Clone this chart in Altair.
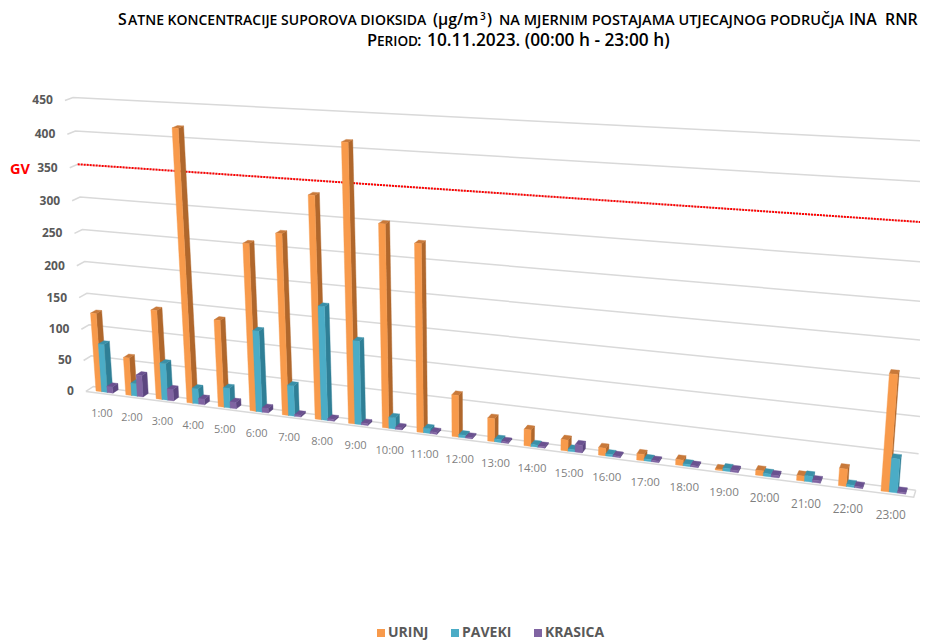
import altair as alt
import pandas as pd

hours = [f"{h}:00" for h in range(1, 24)]
urinj = [125, 60, 140, 417, 135, 255, 274, 333, 411, 300, 276, 62, 34, 24, 16, 11, 9, 8, 1.5, 7, 7, 24, 158]
paveki = [77, 20, 58, 24, 31, 125, 47, 172, 126, 17, 7, 4, 4, 3, 3, 3, 3, 3, 4, 4, 8, 3, 46]
krasica = [10, 34, 18, 9, 10, 7, 3, 3, 3, 3, 3, 2, 2, 2, 11, 2, 2, 2, 3, 3, 3, 2, 2]
series_names = ["URINJ", "PAVEKI", "KRASICA"]
grid_values = [0, 50, 100, 150, 200, 250, 300, 350, 400, 450]
limit_value = 350

face_domain = ["URINJ", "PAVEKI", "KRASICA", "URINJ side", "PAVEKI side", "KRASICA side",
               "URINJ top", "PAVEKI top", "KRASICA top"]
face_range = ["#F89A4B", "#4BACC6", "#8064A2", "#B0672C", "#2F7F96", "#5C4680",
              "#C8793A", "#3A90A8", "#6A5190"]


def project(c, v, d):
    """Oblique camera that turns (category, value, depth) into drawing space."""
    w = 1 - 0.00773 * c - 0.00011 * v + 0.0051 * d
    x = 96 + 28.87 * c - 0.0537 * v + 5.87 * d
    y = 391 + 0.75 * c - 0.6576 * v - 1.53 * d
    return x / w, y / w


C_L, C_R, D_F, D_B = -0.27, 22.77, -0.4, 1.0
BAR = 0.19

polys = []
pid = 0


def add_poly(face, pts):
    global pid
    for k, p in enumerate(pts + pts[:1]):
        x, y = project(*p)
        polys.append({"id": pid, "k": k, "x": x, "y": y, "face": face})
    pid += 1


for i in range(len(hours)):
    for s, vals in enumerate([urinj, paveki, krasica]):
        v = vals[i]
        c0, c1 = i + s * BAR, i + (s + 1) * BAR
        name = series_names[s]
        add_poly(name + " side", [(c1, 0, 0), (c1, v, 0), (c1, v, 1), (c1, 0, 1)])
        add_poly(name + " top", [(c0, v, 0), (c1, v, 0), (c1, v, 1), (c0, v, 1)])
        add_poly(name, [(c0, 0, 0), (c1, 0, 0), (c1, v, 0), (c0, v, 0)])
bars = pd.DataFrame(polys)

grid_rows = []
for v in grid_values:
    for k, p in enumerate([(C_L, v, D_F), (C_L, v, D_B), (C_R, v, D_B)]):
        x, y = project(*p)
        grid_rows.append({"g": f"v{v}", "k": k, "x": x, "y": y})
for k, p in enumerate([(C_L, 0, D_F), (C_R, 0, D_F), (C_R, 0, D_B)]):
    x, y = project(*p)
    grid_rows.append({"g": "floor", "k": k, "x": x, "y": y})
grid = pd.DataFrame(grid_rows)

red_rows = []
for k, c in enumerate([C_L, C_R]):
    x, y = project(c, limit_value, D_B)
    red_rows.append({"k": k, "x": x, "y": y})
red = pd.DataFrame(red_rows)

y_rows = []
for v in grid_values:
    x, y = project(C_L, v, D_F)
    y_rows.append({"x": x - 12, "y": y, "t": str(v)})
y_labels = pd.DataFrame(y_rows)

x_rows = []
for i, h in enumerate(hours):
    x, y = project(i + 1.5 * BAR, 0, 0)
    w = 1 - 0.00773 * i
    x_rows.append({"x": x - 2.5, "y": y + 22, "t": h, "s": 10.8 / w ** 0.5})
x_labels = pd.DataFrame(x_rows)

xs = alt.Scale(domain=[8, 920], range=[0, 912], nice=False, zero=False)
ys = alt.Scale(domain=[640, 8], range=[632, 0], nice=False, zero=False)
X = alt.X("x:Q", scale=xs, axis=None)
Y = alt.Y("y:Q", scale=ys, axis=None)

grid_layer = alt.Chart(grid).mark_line(color="#D9D9D9", strokeWidth=1.5).encode(
    x=X, y=Y, detail="g:N", order="k:Q")
bar_layer = alt.Chart(bars).mark_line(strokeWidth=0.4).encode(
    x=X, y=Y, detail="id:N", order="k:Q",
    fill=alt.Fill("face:N", scale=alt.Scale(domain=face_domain, range=face_range),
                  legend=alt.Legend(values=series_names, title=None, orient="none", legendX=366, legendY=618,
                                    direction="horizontal", symbolType="square", symbolSize=64,
                                    symbolStrokeWidth=0, labelFont="Open Sans", labelFontWeight="bold",
                                    labelFontSize=14, labelColor="#595959", columnPadding=19,
                                    labelOffset=0, padding=0)),
    stroke=alt.Stroke("face:N", scale=alt.Scale(domain=face_domain, range=face_range), legend=None))
red_layer = alt.Chart(red).mark_line(color="#FF0000", strokeWidth=2, strokeDash=[2, 1]).encode(
    x=X, y=Y, order="k:Q")
ylab_layer = alt.Chart(y_labels).mark_text(align="right", baseline="middle", font="Open Sans", fontWeight="bold",
                                            fontSize=12, color="#595959").encode(x=X, y=Y, text="t:N")
xlab_layer = alt.Chart(x_labels).mark_text(align="center", baseline="middle", font="Open Sans",
                                            color="#7F7F7F").encode(
    x=X, y=Y, text="t:N", size=alt.Size("s:Q", scale=None))

gv = pd.DataFrame([{"x": 20, "y": 170, "t": "GV"}])
gv_layer = alt.Chart(gv).mark_text(align="center", baseline="middle", font="Open Sans", fontWeight="bold",
                                    fontSize=14.5, color="#FF0000").encode(x=X, y=Y, text="t:N")

L = 15.9
title_runs = pd.DataFrame([
    {"x": 118, "y": 25, "t": "S", "s": L},
    {"x": 128, "y": 25, "t": "ATNE KONCENTRACIJE SUPOROVA DIOKSIDA", "s": 14.0},
    {"x": 433, "y": 25, "t": "(µg/m", "s": L},
    {"x": 480, "y": 20, "t": "3", "s": 10},
    {"x": 487, "y": 25, "t": ")", "s": L},
    {"x": 499, "y": 25, "t": "NA MJERNIM POSTAJAMA UTJECAJNOG PODRUČJA", "s": 14.5},
    {"x": 849, "y": 25, "t": "INA", "s": L},
    {"x": 885, "y": 25, "t": "RNR", "s": L},
    {"x": 367, "y": 46, "t": "P", "s": 16.5},
    {"x": 377, "y": 46, "t": "ERIOD", "s": 13.6},
    {"x": 417, "y": 46, "t": ":", "s": 16.5},
    {"x": 427, "y": 46, "t": "10.11.2023. (00:00 h - 23:00 h)", "s": 17.3},
])
title_layer = alt.Chart(title_runs).mark_text(align="left", baseline="alphabetic", font="Open Sans",
                                              fontWeight=600, color="#000000").encode(
    x=X, y=Y, text="t:N", size=alt.Size("s:Q", scale=None))

chart = alt.layer(grid_layer, red_layer, bar_layer, ylab_layer, xlab_layer, gv_layer, title_layer).properties(
    width=912, height=632, padding=0, autosize=alt.AutoSizeParams(type="none")
).configure_view(stroke=None)

chart.save("out.html", embed_options={"renderer": "svg", "actions": False})
